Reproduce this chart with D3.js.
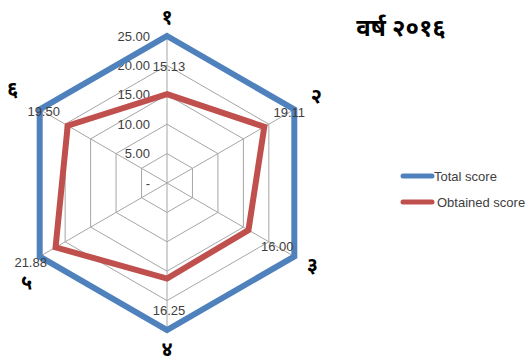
<!DOCTYPE html>
<html>
<head>
<meta charset="utf-8">
<script src="https://cdn.jsdelivr.net/npm/d3@7"></script>
<style>
  body { margin: 0; background: #fff; }
  text { font-family: "Liberation Sans", "DejaVu Sans", sans-serif; }
  .deva { font-family: "Noto Sans Devanagari", "Noto Sans", "DejaVu Sans", sans-serif; }
</style>
</head>
<body>
<svg width="527" height="357"></svg>
<script>
  // chart data
  const categories = ['१', '२', '३', '४', '५', '६'];
  const totalScore = [25, 25, 25, 25, 25, 25];
  const obtainedScore = [15.13, 19.11, 16.00, 16.25, 21.88, 19.50];
  const tickValues = [0, 5, 10, 15, 20, 25];
  const seriesNames = ['Total score', 'Obtained score'];
  const seriesColors = ['#4f81bd', '#c0504d'];

  const svg = d3.select('svg');
  const cx = 167, cy = 183;

  const r = d3.scaleLinear().domain([0, 25]).range([0, 147]);
  const angle = d3.scaleLinear().domain([0, categories.length]).range([0, 2 * Math.PI]);

  const pt = (i, v) => [cx + r(v) * Math.sin(angle(i)), cy - r(v) * Math.cos(angle(i))];

  const chart = svg.append('g');

  // grid rings
  tickValues.slice(1).forEach(t => {
    chart.append('polygon')
      .attr('points', categories.map((c, i) => pt(i, t).join(',')).join(' '))
      .attr('fill', 'none')
      .attr('stroke', '#a6a6a6')
      .attr('stroke-width', 1);
  });

  // spokes
  chart.selectAll()
    .data(categories).enter()
    .append('line')
    .attr('x1', cx).attr('y1', cy)
    .attr('x2', (d, i) => pt(i, 25)[0])
    .attr('y2', (d, i) => pt(i, 25)[1])
    .attr('stroke', '#a6a6a6')
    .attr('stroke-width', 1);

  // tick labels
  chart.selectAll()
    .data(tickValues).enter()
    .append('text')
    .text(d => d === 0 ? '-' : d3.format('.2f')(d))
    .attr('x', cx - 17)
    .attr('y', d => cy - r(d))
    .attr('dy', '0.35em')
    .attr('text-anchor', 'end')
    .attr('font-size', 13)
    .attr('fill', '#404040');

  // series
  const line = d3.line().curve(d3.curveLinearClosed);
  [totalScore, obtainedScore].forEach((s, k) => {
    chart.append('path')
      .attr('d', line(s.map((v, i) => pt(i, v))))
      .attr('fill', 'none')
      .attr('stroke', seriesColors[k])
      .attr('stroke-width', 6)
      .attr('stroke-linejoin', 'miter');
  });

  // data labels (obtained values), placed near the outer vertices
  const labelShift = [[2, 30], [-5, 3], [-17, -10], [2, -20], [-9, 6], [4, 2]];
  chart.selectAll()
    .data(obtainedScore).enter()
    .append('text')
    .text(d => d3.format('.2f')(d))
    .attr('x', (d, i) => pt(i, 25)[0] + labelShift[i][0])
    .attr('y', (d, i) => pt(i, 25)[1] + labelShift[i][1])
    .attr('dy', '0.35em')
    .attr('text-anchor', 'middle')
    .attr('font-size', 13)
    .attr('fill', '#404040');

  // category labels
  const catShift = [[0, -19], [22, -14], [18, 8], [0, 19], [-13, 25], [-27, -21]];
  chart.selectAll()
    .data(categories).enter()
    .append('text')
    .attr('class', 'deva')
    .text(d => d)
    .attr('x', (d, i) => pt(i, 25)[0] + catShift[i][0])
    .attr('y', (d, i) => pt(i, 25)[1] + catShift[i][1])
    .attr('dy', '0.35em')
    .attr('text-anchor', 'middle')
    .attr('font-size', 20)
    .attr('font-weight', 'bold')
    .attr('fill', '#000');

  // title
  svg.append('text')
    .attr('class', 'deva')
    .text('वर्ष २०१६')
    .attr('x', 401)
    .attr('y', 28)
    .attr('dy', '0.35em')
    .attr('text-anchor', 'middle')
    .attr('font-size', 24)
    .attr('font-weight', 'bold')
    .attr('fill', '#000');

  // legend
  const legend = svg.selectAll('.legend')
    .data(seriesNames).enter()
    .append('g')
    .attr('transform', (d, i) => 'translate(403,' + (176 + i * 26) + ')');
  legend.append('line')
    .attr('x1', 0).attr('x2', 29)
    .attr('stroke', (d, i) => seriesColors[i])
    .attr('stroke-width', 5)
    .attr('stroke-linecap', 'round');
  legend.append('text')
    .text(d => d)
    .attr('x', (d, i) => i === 0 ? 31 : 34)
    .attr('dy', '0.35em')
    .attr('font-size', 13)
    .attr('fill', '#404040');
</script>
</body>
</html>
